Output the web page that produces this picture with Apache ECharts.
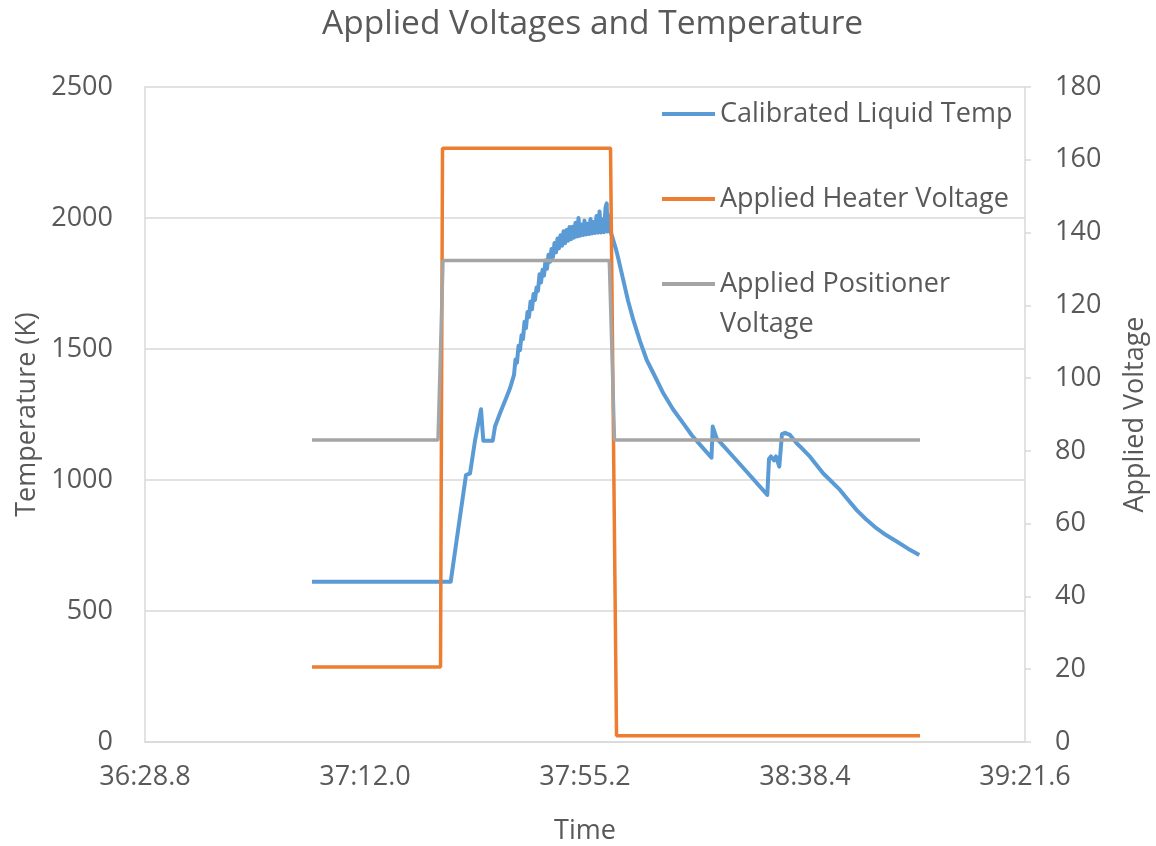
<!DOCTYPE html>
<html>
<head>
<meta charset="utf-8">
<script src="https://cdn.jsdelivr.net/npm/echarts@6/dist/echarts.min.js"></script>
<style>html,body{margin:0;padding:0;background:#fff;}#c{width:1156px;height:846px;}</style>
</head>
<body>
<div id="c"></div>
<script>
// Time values in seconds (minutes*60 + seconds)
const T0 = 2188.8;            // 36:28.8, first x tick
const xTickStep = 43.2;       // seconds between x ticks
const xSpan = 172.8;          // 36:28.8 .. 39:21.6

const tempTimes = [
  2221.59, 2248.83, 2250.26, 2251.83, 2252.62, 2253.60, 2254.78, 2255.23, 2257.08, 2257.53,
  2258.51, 2259.82, 2260.47, 2261.26, 2261.55, 2261.85, 2262.14, 2262.44, 2262.73, 2263.03,
  2263.32, 2263.61, 2263.91, 2264.20, 2264.50, 2264.79, 2265.09, 2265.38, 2265.68, 2265.97,
  2266.27, 2266.56, 2266.85, 2267.15, 2267.44, 2267.74, 2268.03, 2268.33, 2268.62, 2268.92,
  2269.21, 2269.51, 2269.80, 2270.09, 2270.39, 2270.68, 2270.98, 2271.27, 2271.57, 2271.86,
  2272.16, 2272.45, 2272.75, 2273.04, 2273.33, 2273.63, 2273.92, 2274.22, 2274.51, 2274.81,
  2275.10, 2275.40, 2275.69, 2275.99, 2276.28, 2276.57, 2276.87, 2277.16, 2277.46, 2277.75,
  2278.05, 2278.34, 2278.64, 2278.93, 2279.23, 2279.46, 2279.62, 2279.91, 2280.21, 2280.50,
  2281.29, 2281.68, 2282.72, 2283.64, 2284.69, 2286.00, 2287.32, 2288.95, 2290.58, 2292.48,
  2294.50, 2296.21, 2297.78, 2300.04, 2300.28, 2301.06, 2305.64, 2311.00, 2311.33, 2311.72,
  2312.31, 2312.71, 2313.35, 2313.88, 2314.47, 2315.45, 2316.77, 2317.42, 2319.38, 2321.99,
  2323.31, 2325.27, 2326.84, 2328.55, 2330.38, 2332.48, 2334.31, 2336.41, 2338.63, 2340.85
];
const tempValues = [
  612, 612, 806, 1019, 1025, 1150, 1270, 1150, 1150, 1204,
  1255, 1318, 1350, 1401, 1460, 1448, 1512, 1496, 1552, 1538,
  1604, 1580, 1641, 1622, 1681, 1652, 1710, 1687, 1735, 1722,
  1785, 1754, 1802, 1780, 1838, 1806, 1860, 1833, 1882, 1851,
  1905, 1869, 1922, 1884, 1934, 1894, 1949, 1904, 1954, 1913,
  1966, 1919, 1967, 1925, 1982, 1929, 2000, 1932, 1975, 1935,
  1990, 1937, 1978, 1939, 1996, 1941, 1985, 1943, 2008, 1944,
  2025, 1945, 1995, 1946, 2040, 2056, 1948, 2010, 1950, 1954,
  1880, 1850, 1763, 1685, 1611, 1530, 1458, 1395, 1331, 1270,
  1216, 1170, 1135, 1085, 1204, 1159, 1060, 943, 1080, 1090,
  1075, 1090, 1051, 1175, 1180, 1172, 1140, 1128, 1089, 1025,
  1000, 962, 925, 885, 850, 815, 790, 765, 738, 714
];

const heaterTimes = [2221.59, 2246.83, 2247.22, 2280.21, 2281.39, 2340.98];
const heaterValues = [20.6, 20.6, 163.2, 163.2, 1.7, 1.7];

const positionerTimes = [2221.59, 2246.34, 2247.32, 2279.97, 2280.99, 2340.98];
const positionerValues = [83.0, 83.0, 132.3, 132.3, 83.0, 83.0];

const seriesNames = ['Calibrated Liquid Temp', 'Applied Heater Voltage', 'Applied Positioner Voltage'];
const seriesColors = ['#5B9BD5', '#ED7D31', '#A5A5A5'];

function pairs(ts, vs) { return ts.map((t, i) => [t - T0, vs[i]]); }
function fmtTime(v) {
  const total = Math.round((T0 + v) * 10) / 10;
  const m = Math.floor(total / 60);
  const s = total - m * 60;
  const ss = s.toFixed(1);
  return m + ':' + (s < 10 ? '0' + ss : ss);
}

const FONT = 'Open Sans';
const TXT = '#595959';
const chart = echarts.init(document.getElementById('c'), null, {renderer: 'canvas'});
chart.setOption({
  backgroundColor: '#ffffff',
  animation: false,
  title: {
    text: 'Applied Voltages and Temperature',
    left: 317, top: 2,
    textStyle: {fontFamily: FONT, fontSize: 33.5, fontWeight: 'normal', color: TXT}
  },
  legend: {
    orient: 'vertical', left: 657, top: 92,
    itemWidth: 53, itemHeight: 4, itemGap: 51,
    icon: 'rect',
    data: seriesNames,
    formatter: function (n) { return n === 'Applied Positioner Voltage' ? 'Applied Positioner' : n; },
    textStyle: {fontFamily: FONT, fontSize: 27, color: TXT, lineHeight: 34}
  },
  graphic: [{
    type: 'text', left: 720, top: 311,
    style: {text: 'Voltage', fontFamily: FONT, fontSize: 27, fill: TXT}
  }],
  grid: {left: 145, right: 131, top: 87, bottom: 104, outerBoundsMode: 'none', containLabel: false},
  xAxis: {
    type: 'value', min: 0, max: xSpan, interval: xTickStep,
    name: 'Time', nameLocation: 'middle', nameGap: 76,
    nameTextStyle: {fontFamily: FONT, fontSize: 27, color: TXT},
    axisLine: {show: true, lineStyle: {color: '#D9D9D9', width: 1.5}},
    axisTick: {show: false},
    splitLine: {show: false},
    axisLabel: {fontFamily: FONT, fontSize: 27, color: TXT, margin: 22, formatter: fmtTime}
  },
  yAxis: [{
    type: 'value', min: 0, max: 2500, interval: 500,
    name: 'Temperature (K)', nameLocation: 'middle', nameGap: 96,
    nameTextStyle: {fontFamily: FONT, fontSize: 27, color: TXT},
    axisLine: {show: true, lineStyle: {color: '#D9D9D9', width: 1.5}},
    axisTick: {show: false},
    splitLine: {show: true, lineStyle: {color: '#D9D9D9', width: 1.5}},
    axisLabel: {fontFamily: FONT, fontSize: 27, color: TXT, margin: 32, formatter: function (v) { return String(v); }}
  }, {
    type: 'value', min: 0, max: 180, interval: 20, position: 'right',
    name: 'Applied Voltage', nameLocation: 'middle', nameGap: 97,
    nameTextStyle: {fontFamily: FONT, fontSize: 27, color: TXT},
    axisLine: {show: true, lineStyle: {color: '#D9D9D9', width: 1.5}},
    axisTick: {show: true, length: 6, lineStyle: {color: '#D9D9D9', width: 1.5}},
    splitLine: {show: false},
    axisLabel: {fontFamily: FONT, fontSize: 27, color: TXT, margin: 30}
  }],
  series: [{
    name: seriesNames[0], type: 'line', yAxisIndex: 0, showSymbol: false, symbol: 'none',
    data: pairs(tempTimes, tempValues),
    lineStyle: {color: seriesColors[0], width: 4, join: 'round'},
    itemStyle: {color: seriesColors[0]}
  }, {
    name: seriesNames[1], type: 'line', yAxisIndex: 1, showSymbol: false, symbol: 'none',
    data: pairs(heaterTimes, heaterValues),
    lineStyle: {color: seriesColors[1], width: 3.5},
    itemStyle: {color: seriesColors[1]}
  }, {
    name: seriesNames[2], type: 'line', yAxisIndex: 1, showSymbol: false, symbol: 'none',
    data: pairs(positionerTimes, positionerValues),
    lineStyle: {color: seriesColors[2], width: 3.5},
    itemStyle: {color: seriesColors[2]}
  }]
});
</script>
</body>
</html>
